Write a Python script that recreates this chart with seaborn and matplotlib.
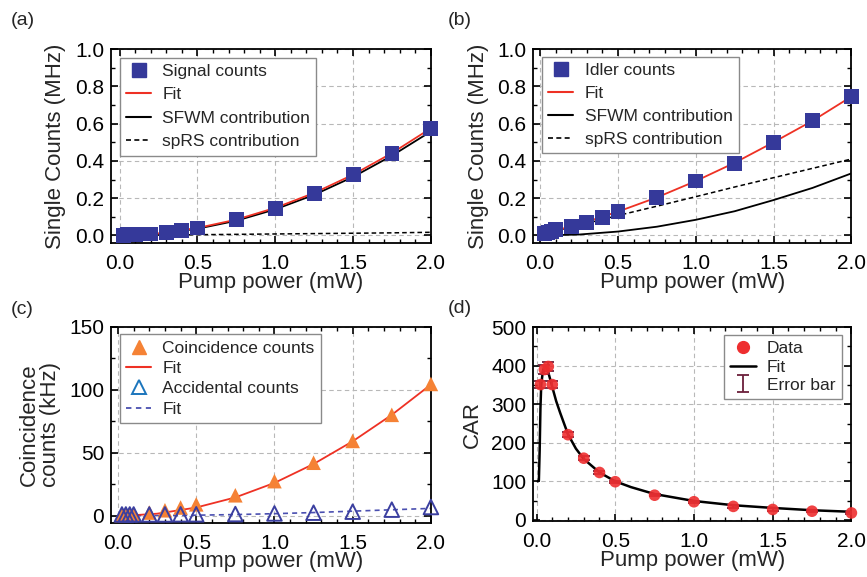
import numpy as np
import pandas as pd
import seaborn as sns
import matplotlib
matplotlib.use("Agg")
import matplotlib.pyplot as plt
from matplotlib.lines import Line2D
from matplotlib.ticker import MultipleLocator

# ---------------- data ----------------
power = [0.025, 0.05, 0.075, 0.1, 0.2, 0.3, 0.4, 0.5, 0.75, 1.0, 1.25, 1.5, 1.75, 2.0]

signal_counts = [0.002, 0.003, 0.004, 0.005, 0.008, 0.014, 0.026, 0.040, 0.084, 0.147, 0.227, 0.326, 0.442, 0.576]
idler_counts = [0.012, 0.016, 0.022, 0.030, 0.048, 0.070, 0.098, 0.128, 0.205, 0.292, 0.387, 0.497, 0.615, 0.745]

fit_x = [0.0, 0.25, 0.5, 0.75, 1.0, 1.25, 1.5, 1.75, 2.0]
sig_fit = [0.0, 0.011, 0.040, 0.085, 0.148, 0.228, 0.326, 0.442, 0.575]
sig_sfwm = [0.0, 0.009, 0.036, 0.079, 0.140, 0.218, 0.314, 0.428, 0.558]
sig_sprs = [0.0, 0.002, 0.004, 0.006, 0.008, 0.010, 0.012, 0.014, 0.017]

idl_fit = [0.005, 0.060, 0.128, 0.204, 0.292, 0.390, 0.500, 0.615, 0.745]
idl_sfwm = [0.0, 0.005, 0.021, 0.047, 0.084, 0.130, 0.190, 0.255, 0.333]
idl_sprs = [0.005, 0.055, 0.107, 0.157, 0.208, 0.260, 0.310, 0.360, 0.410]

coinc_counts = [0.5, 0.7, 0.9, 1.2, 2.5, 4.3, 6.5, 9.0, 16.2, 27.4, 42.0, 59.3, 80.0, 104.5]
acc_counts = [1.0, 1.0, 1.0, 1.0, 1.0, 1.0, 1.1, 1.1, 1.3, 1.8, 2.4, 3.2, 4.8, 6.9]
coinc_fit_x = [0.05, 0.25, 0.5, 0.75, 1.0, 1.25, 1.5, 1.75, 2.0]
coinc_fit = [0.0, 1.6, 6.5, 14.5, 26.0, 41.0, 59.0, 80.0, 104.0]
acc_fit = [0.0, 0.1, 0.4, 0.9, 1.6, 2.5, 3.6, 4.7, 5.8]

car = [351, 390, 398, 351, 221, 160, 123, 99, 64, 47, 35, 27, 22.5, 18]
car_err = [10, 12, 11, 10, 7, 5, 4, 3, 3, 3, 3, 3, 3, 3]
car_fit_x = [0.008, 0.015, 0.02, 0.025, 0.03, 0.04, 0.05, 0.06, 0.07, 0.08, 0.1, 0.125,
             0.15, 0.2, 0.25, 0.3, 0.4, 0.5, 0.6, 0.75, 1.0, 1.25, 1.5, 1.75, 2.0]
car_fit = [100, 102, 180, 290, 350, 385, 398, 397, 390, 375, 345, 308,
           278, 222, 185, 158, 123, 100, 85, 67, 49, 38, 31, 25, 21]

# ---------------- style ----------------
sns.set_theme(style="ticks")
plt.rcParams['font.family'] = ['Liberation Sans', 'DejaVu Sans']
plt.rcParams['axes.linewidth'] = 1.3

NAVY = "#35399A"
RED = "#EE3124"
ORANGE = "#F58235"
BLUEP = "#3B3FA0"
LBLUE = "#1B75BC"
DRED = "#6B1F3A"
CRED = "#EE2E2F"

fig = plt.figure(figsize=(8.67, 5.77), dpi=100)
axA = fig.add_axes([0.128, 0.579, 0.369, 0.336])
axB = fig.add_axes([0.615, 0.579, 0.367, 0.336])
axC = fig.add_axes([0.128, 0.094, 0.369, 0.340])
axD = fig.add_axes([0.615, 0.097, 0.367, 0.336])


def style_axes(ax, xmin, ylim, ymajor, yminor):
    ax.set_xlim(xmin, 2.0)
    ax.set_ylim(*ylim)
    ax.xaxis.set_major_locator(MultipleLocator(0.5))
    ax.xaxis.set_minor_locator(MultipleLocator(0.1))
    ax.yaxis.set_major_locator(MultipleLocator(ymajor))
    ax.yaxis.set_minor_locator(MultipleLocator(yminor))
    ax.tick_params(which='both', direction='in', top=True, right=True,
                   labelsize=15, colors='black')
    ax.tick_params(axis='y', which='major', pad=5)
    ax.tick_params(axis='x', which='major', pad=8)
    ax.tick_params(which='major', length=5, width=1.2)
    ax.tick_params(which='minor', length=3, width=1.0)
    ax.grid(True, which='major', color='#b8b8b8', linestyle=(0, (4, 3)), linewidth=0.8)
    ax.set_axisbelow(True)
    for s in ax.spines.values():
        s.set_color('black')
        s.set_linewidth(1.3)
    ax.set_xlabel("Pump power (mW)", fontsize=16, labelpad=-1)


def leg(ax, handles, labels, loc, anchor, spacing):
    lg = ax.legend(handles, labels, loc=loc, bbox_to_anchor=anchor, borderaxespad=0,
                   fontsize=12.5, frameon=True, fancybox=False, framealpha=1,
                   edgecolor='#8a8a8a', handlelength=1.45, handletextpad=0.65,
                   labelspacing=spacing, borderpad=0.35)
    lg.get_frame().set_linewidth(1.0)
    return lg


# ---------- (a) ----------
style_axes(axA, -0.055, (-0.04, 1.0), 0.2, 0.1)
sns.lineplot(x=fit_x, y=sig_sprs, ax=axA, color='black', lw=1.1, linestyle=(0, (3, 2)),
             estimator=None, sort=False)
sns.lineplot(x=fit_x, y=sig_sfwm, ax=axA, color='black', lw=1.3, estimator=None, sort=False)
sns.lineplot(x=fit_x, y=sig_fit, ax=axA, color=RED, lw=1.3, estimator=None, sort=False)
sns.scatterplot(x=power, y=signal_counts, ax=axA, marker='s', s=115, color=NAVY,
                edgecolor='none', clip_on=False, zorder=5)
axA.set_ylabel("Single Counts (MHz)", fontsize=16, labelpad=6)
hA = [Line2D([], [], marker='s', ls='none', color=NAVY, markersize=10.5),
      Line2D([], [], color=RED, lw=1.5),
      Line2D([], [], color='black', lw=1.5),
      Line2D([], [], color='black', lw=1.2, ls=(0, (3, 2)))]
leg(axA, hA, ["Signal counts", "Fit", "SFWM contribution", "spRS contribution"],
    'upper left', (0.028, 0.955), 0.48)

# ---------- (b) ----------
style_axes(axB, -0.045, (-0.04, 1.0), 0.2, 0.1)
sns.lineplot(x=fit_x, y=idl_sprs, ax=axB, color='black', lw=1.1, linestyle=(0, (3, 2)),
             estimator=None, sort=False)
sns.lineplot(x=fit_x, y=idl_sfwm, ax=axB, color='black', lw=1.3, estimator=None, sort=False)
sns.lineplot(x=fit_x, y=idl_fit, ax=axB, color=RED, lw=1.3, estimator=None, sort=False)
sns.scatterplot(x=power, y=idler_counts, ax=axB, marker='s', s=115, color=NAVY,
                edgecolor='none', clip_on=False, zorder=5)
axB.set_ylabel("Single Counts (MHz)", fontsize=16, labelpad=6)
hB = [Line2D([], [], marker='s', ls='none', color=NAVY, markersize=10.5),
      Line2D([], [], color=RED, lw=1.5),
      Line2D([], [], color='black', lw=1.5),
      Line2D([], [], color='black', lw=1.2, ls=(0, (3, 2)))]
leg(axB, hB, ["Idler counts", "Fit", "SFWM contribution", "spRS contribution"],
    'upper left', (0.028, 0.96), 0.45)

# ---------- (c) ----------
style_axes(axC, -0.045, (-5.6, 150), 50, 25)
sns.lineplot(x=fit_x, y=acc_fit, ax=axC, color="#4A4FB0", lw=1.2, linestyle=(0, (3, 2.5)),
             estimator=None, sort=False)
sns.lineplot(x=coinc_fit_x, y=coinc_fit, ax=axC, color=RED, lw=1.3, estimator=None, sort=False)
sns.scatterplot(x=power, y=coinc_counts, ax=axC, marker='^', s=110, color=ORANGE,
                edgecolor='none', clip_on=False, zorder=5)
axC.scatter(power, acc_counts, marker='^', s=110, facecolor='none', edgecolor=BLUEP,
            linewidth=1.4, clip_on=False, zorder=6)
axC.set_ylabel("Coincidence\ncounts (kHz)", fontsize=16, labelpad=6, linespacing=1.0)
hC = [Line2D([], [], marker='^', ls='none', color=ORANGE, markersize=10),
      Line2D([], [], color=RED, lw=1.5),
      Line2D([], [], marker='^', ls='none', markerfacecolor='none', markeredgecolor=LBLUE,
             markeredgewidth=1.4, markersize=10),
      Line2D([], [], color="#4A4FB0", lw=1.3, ls=(0, (3, 2.5)))]
leg(axC, hC, ["Coincidence counts", "Fit", "Accidental counts", "Fit"],
    'upper left', (0.028, 0.96), 0.3)

# ---------- (d) ----------
style_axes(axD, -0.021, (-3, 500), 100, 50)
sns.lineplot(x=car_fit_x, y=car_fit, ax=axD, color='black', lw=1.8, estimator=None, sort=False)
eb = axD.errorbar(power, car, yerr=car_err, fmt='none', ecolor=DRED, elinewidth=1.3,
                  capsize=4.5, capthick=1.3, zorder=4)
sns.scatterplot(x=power, y=car, ax=axD, marker='o', s=70, color=CRED, edgecolor='none',
                alpha=0.9, clip_on=False, zorder=5)
axD.set_ylabel("CAR", fontsize=16, labelpad=6)
hD = [Line2D([], [], marker='o', ls='none', color=CRED, markersize=8.5),
      Line2D([], [], color='black', lw=1.8),
      eb]
leg(axD, hD, ["Data", "Fit", "Error bar"], 'upper right', (0.969, 0.959), 0.18)

# panel letters
fig.text(0.012, 0.965, "(a)", fontsize=14, va='center', ha='left')
fig.text(0.517, 0.965, "(b)", fontsize=14, va='center', ha='left')
fig.text(0.012, 0.463, "(c)", fontsize=14, va='center', ha='left')
fig.text(0.517, 0.466, "(d)", fontsize=14, va='center', ha='left')

fig.savefig("out.png", dpi=100)
